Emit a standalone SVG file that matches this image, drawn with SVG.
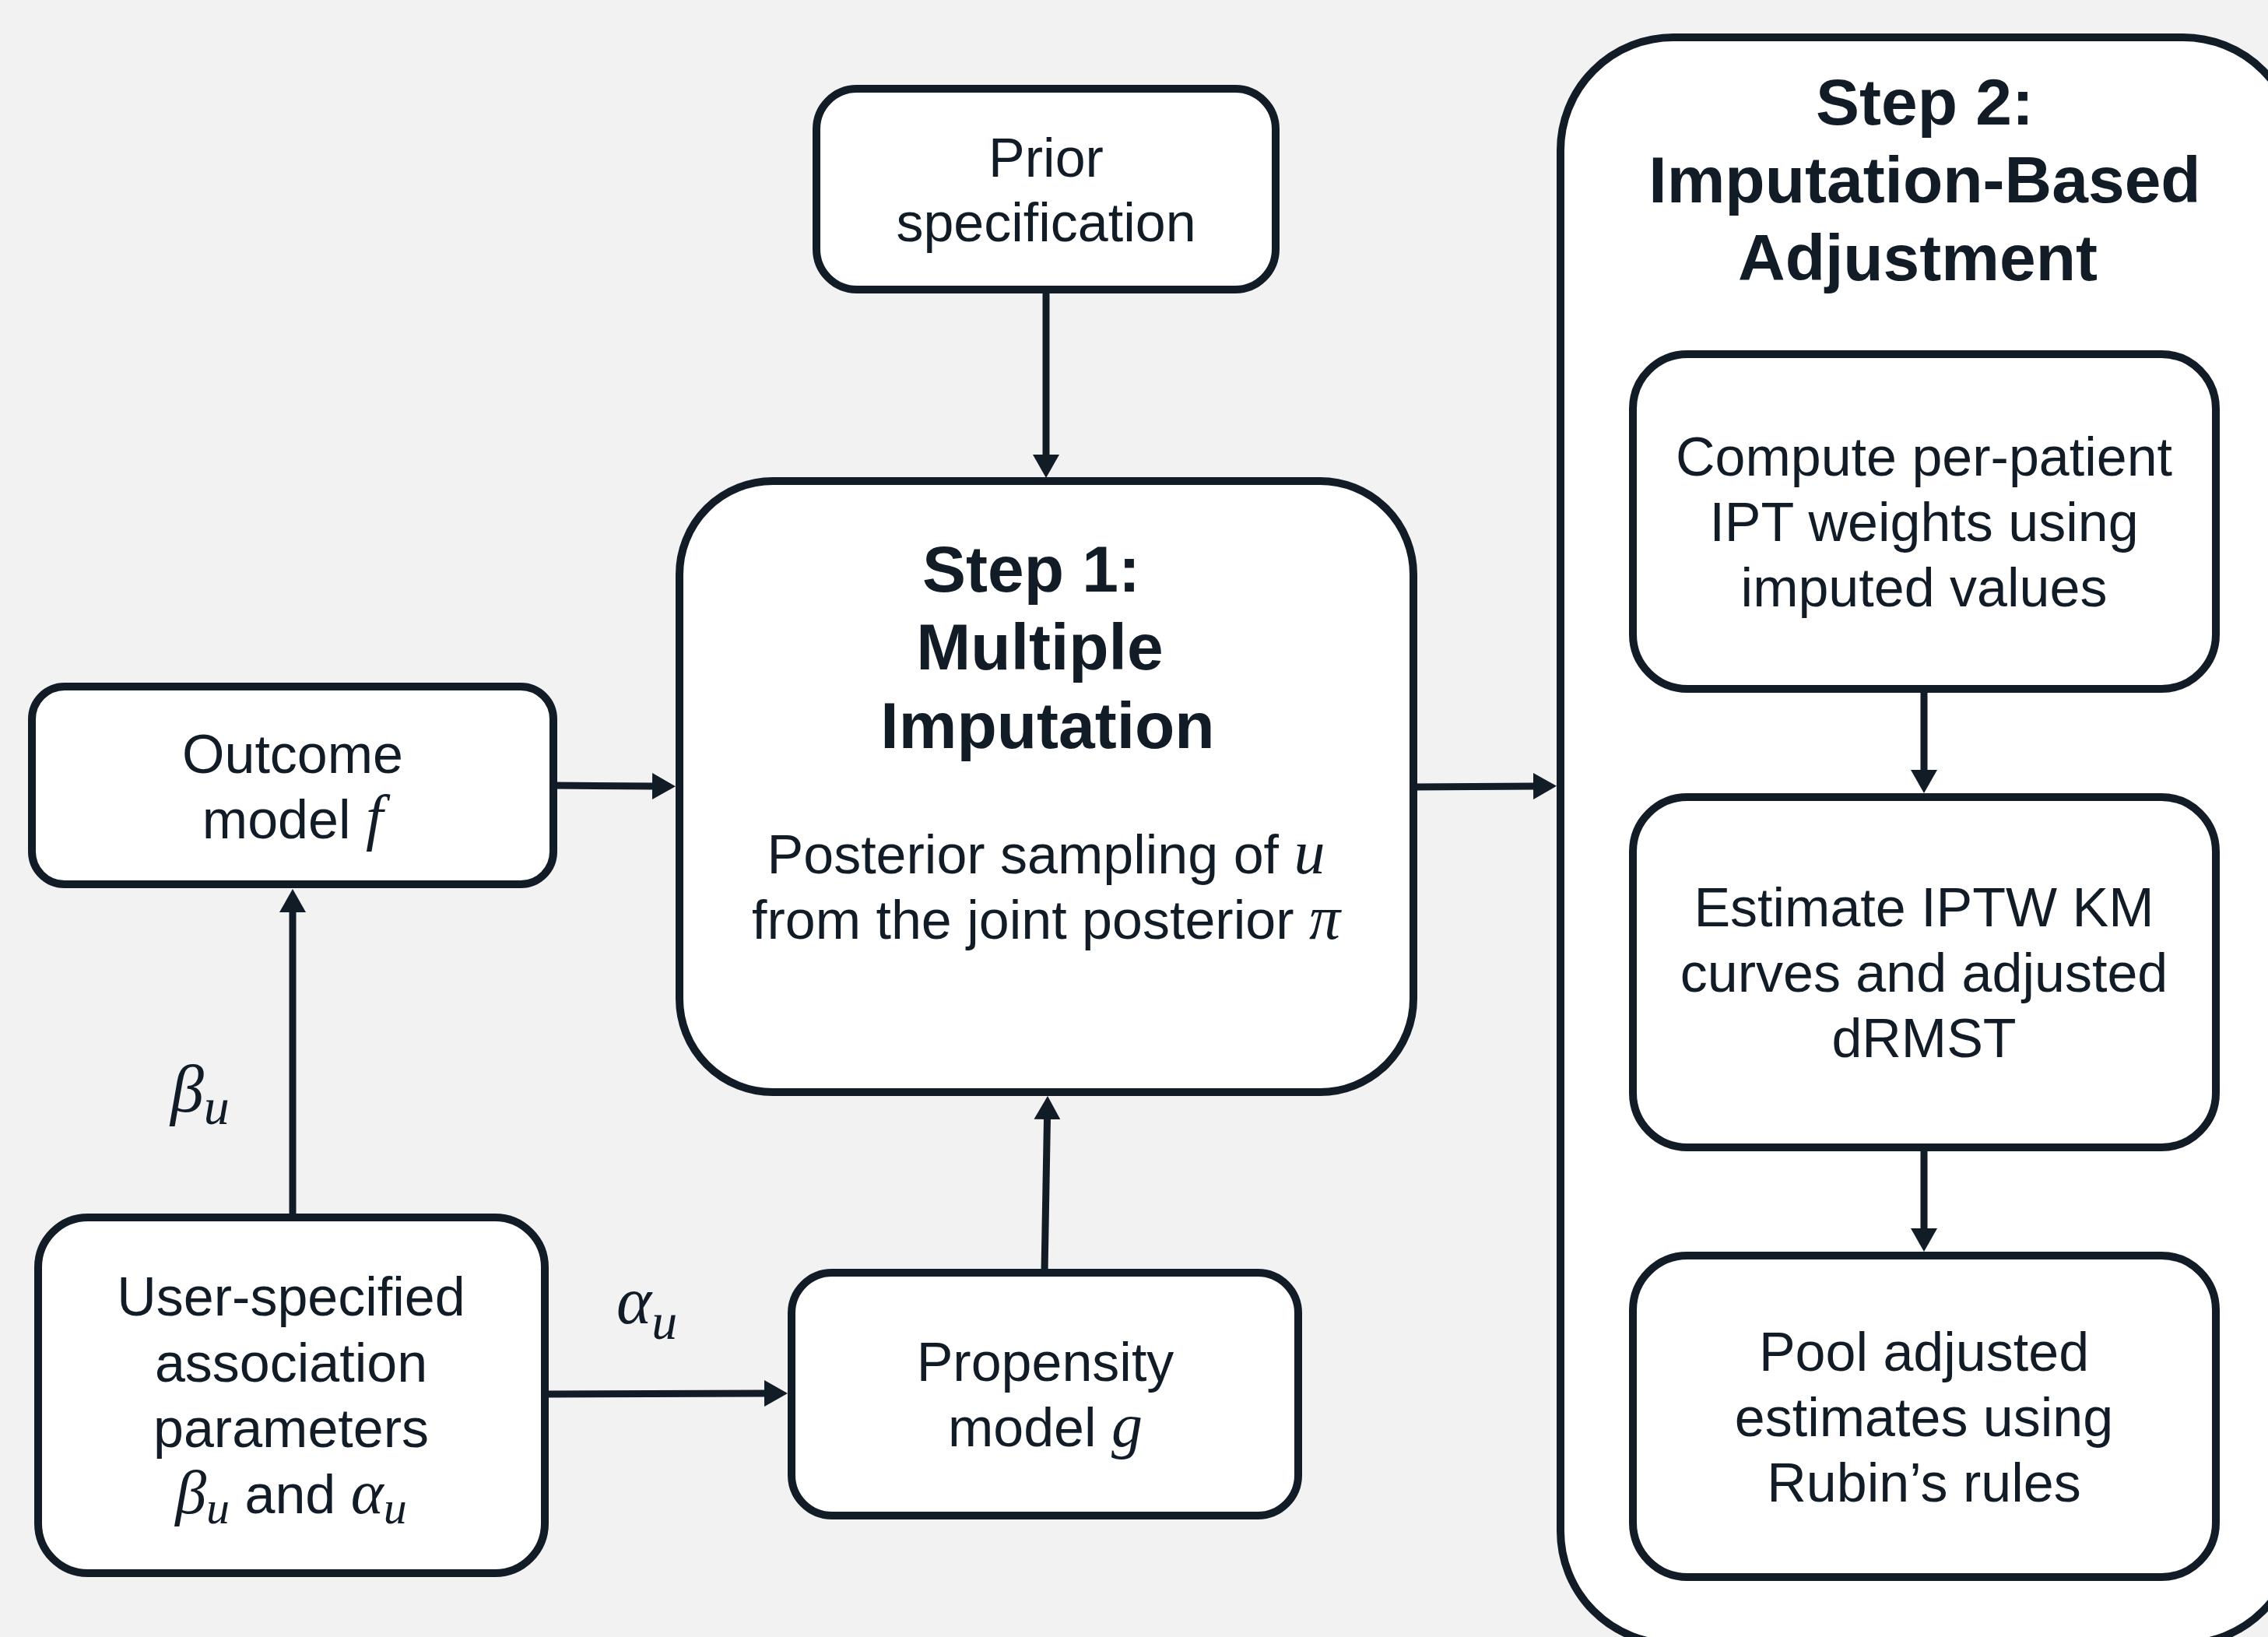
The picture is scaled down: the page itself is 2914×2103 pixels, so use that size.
<svg xmlns="http://www.w3.org/2000/svg" width="2914" height="2103" viewBox="0 0 2914 2103">
<style>
.bg{fill:#f2f2f2}
.box{fill:#ffffff;stroke:#121c27;stroke-width:10}
.t{font-family:"Liberation Sans",Arial,sans-serif;font-size:70px;fill:#121c27;text-anchor:middle}
.h{font-weight:bold;font-size:84px}
.m{font-family:"Liberation Serif","Times New Roman",serif;font-style:italic;font-size:80px}
.s{font-family:"Liberation Serif","Times New Roman",serif;font-style:italic;font-size:60px}
.lbl{font-family:"Liberation Serif","Times New Roman",serif;font-style:italic;font-size:86px;fill:#121c27;text-anchor:start}
.c{stroke:#121c27;stroke-width:9;fill:none;marker-end:url(#ah)}
</style>
<defs>
<marker id="ah" viewBox="0 0 30 34" markerWidth="30" markerHeight="34" refX="1" refY="17" orient="auto" markerUnits="userSpaceOnUse">
<path d="M0,0 L30,17 L0,34 Z" fill="#121c27"/>
</marker>
</defs>
<rect class="bg" x="0" y="0" width="2914" height="2103"/>

<g id="step2">
<rect class="box" x="2005" y="48" width="945" height="2064" rx="145"/>
<text class="t h" x="2473" y="160">Step 2:</text>
<text class="t h" x="2473" y="260">Imputation-Based</text>
<text class="t h" x="2464" y="360">Adjustment</text>
</g>

<g id="prior">
<rect class="box" x="1049" y="114" width="590" height="258" rx="52"/>
<text class="t" x="1344" y="227">Prior</text>
<text class="t" x="1344" y="310">specification</text>
</g>

<g id="step1">
<rect class="box" x="873" y="618" width="943" height="785" rx="120"/>
<text class="t h" x="1325" y="760">Step 1:</text>
<text class="t h" x="1336" y="860">Multiple</text>
<text class="t h" x="1346" y="961">Imputation</text>
<text class="t" x="1344" y="1122">Posterior sampling of <tspan class="m">u</tspan></text>
<text class="t" x="1344" y="1206">from the joint posterior <tspan class="m">π</tspan></text>
</g>

<g id="outcome">
<rect class="box" x="41" y="882" width="670" height="254" rx="42"/>
<text class="t" x="376" y="993">Outcome</text>
<text class="t" x="376" y="1077">model <tspan class="m">f</tspan></text>
</g>

<g id="user">
<rect class="box" x="49" y="1564" width="651" height="457" rx="64"/>
<text class="t" x="374" y="1690">User-specified</text>
<text class="t" x="374" y="1775">association</text>
<text class="t" x="374" y="1859">parameters</text>
<text class="t" x="374" y="1944"><tspan class="m">β</tspan><tspan class="s" dy="13">u</tspan><tspan dy="-13"> and </tspan><tspan class="m">α</tspan><tspan class="s" dy="13">u</tspan></text>
</g>

<g id="propensity">
<rect class="box" x="1017" y="1635" width="651" height="312" rx="52"/>
<text class="t" x="1343" y="1774">Propensity</text>
<text class="t" x="1343" y="1858">model <tspan class="m">g</tspan></text>
</g>

<g id="compute">
<rect class="box" x="2098" y="455" width="749" height="430" rx="70"/>
<text class="t" x="2472" y="611">Compute per-patient</text>
<text class="t" x="2472" y="695">IPT weights using</text>
<text class="t" x="2472" y="779">imputed values</text>
</g>

<g id="estimate">
<rect class="box" x="2098" y="1024" width="749" height="450" rx="70"/>
<text class="t" x="2472" y="1190">Estimate IPTW KM</text>
<text class="t" x="2472" y="1274">curves and adjusted</text>
<text class="t" x="2472" y="1358">dRMST</text>
</g>

<g id="pool">
<rect class="box" x="2098" y="1613" width="749" height="413" rx="70"/>
<text class="t" x="2472" y="1761">Pool adjusted</text>
<text class="t" x="2472" y="1845">estimates using</text>
<text class="t" x="2472" y="1929">Rubin’s rules</text>
</g>

<g id="connectors">
<line class="c" x1="1344" y1="372" x2="1344" y2="585"/>
<line class="c" x1="711" y1="1009" x2="839" y2="1010"/>
<line class="c" x1="376" y1="1564" x2="376" y2="1171"/>
<line class="c" x1="700" y1="1791" x2="983" y2="1790"/>
<line class="c" x1="1342" y1="1635" x2="1345.5" y2="1437"/>
<line class="c" x1="1816" y1="1011" x2="1971" y2="1010"/>
<line class="c" x1="2472" y1="885" x2="2472" y2="990"/>
<line class="c" x1="2472" y1="1474" x2="2472" y2="1579"/>
<text class="lbl" x="219" y="1428">β<tspan font-size="66" dy="16">u</tspan></text>
<text class="lbl" x="792" y="1700">α<tspan font-size="66" dy="20">u</tspan></text>
</g>
</svg>
